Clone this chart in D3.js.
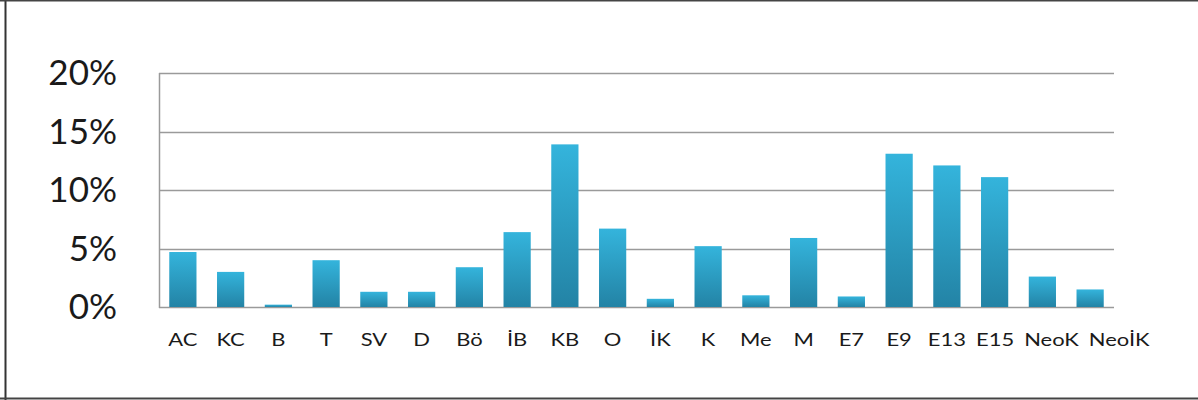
<!DOCTYPE html>
<html>
<head>
<meta charset="utf-8">
<script src="https://cdn.jsdelivr.net/npm/d3@7"></script>
<style>
  html, body { margin: 0; padding: 0; background: #fff; }
  svg { display: block; }
</style>
</head>
<body>
<div id="chart"></div>
<script>
// Category codes along the x axis
const categories = ["AC", "KC", "B", "T", "SV", "D", "Bö", "İB", "KB", "O", "İK", "K", "Me", "M", "E7", "E9", "E13", "E15", "NeoK", "NeoİK"];
// Share of each category, in percent
const values = [4.7, 3.0, 0.2, 4.0, 1.3, 1.3, 3.4, 6.4, 13.9, 6.7, 0.7, 5.2, 1.0, 5.9, 0.9, 13.1, 12.1, 11.1, 2.6, 1.5];
// Y axis tick values (percent)
const yTicks = [0, 5, 10, 15, 20];

const W = 1198, H = 400;
const plot = { left: 159, right: 1114, top: 73, bottom: 307 };

const svg = d3.select("#chart").append("svg")
  .attr("width", W).attr("height", H);

// Frame around the chart
svg.append("line").attr("x1", 5.5).attr("x2", 5.5).attr("y1", 0).attr("y2", H)
  .attr("stroke", "#333").attr("stroke-width", 2);
svg.append("line").attr("x1", 0).attr("x2", W).attr("y1", 0.5).attr("y2", 0.5)
  .attr("stroke", "#444").attr("stroke-width", 2);
svg.append("line").attr("x1", 0).attr("x2", W).attr("y1", 398.5).attr("y2", 398.5)
  .attr("stroke", "#444").attr("stroke-width", 2);

const x = d3.scaleBand().domain(categories)
  .range([plot.left, plot.right]).paddingInner(0.43).paddingOuter(0.215);
const y = d3.scaleLinear().domain([0, 20]).range([plot.bottom, plot.top]);

// Vertical gradient for the bars
const defs = svg.append("defs");
const grad = defs.append("linearGradient").attr("id", "barGrad")
  .attr("x1", 0).attr("y1", 0).attr("x2", 0).attr("y2", 1);
grad.append("stop").attr("offset", "0%").attr("stop-color", "#34b4dc");
grad.append("stop").attr("offset", "100%").attr("stop-color", "#2383a5");

// Horizontal gridlines
svg.append("g").selectAll("line").data(yTicks).join("line")
  .attr("x1", plot.left).attr("x2", plot.right)
  .attr("y1", d => Math.round(y(d)) + 0.5).attr("y2", d => Math.round(y(d)) + 0.5)
  .attr("stroke", "#9a9a9a").attr("stroke-width", 1.5);

// Left axis line
svg.append("line")
  .attr("x1", plot.left + 0.5).attr("x2", plot.left + 0.5)
  .attr("y1", y(20)).attr("y2", y(0) + 1)
  .attr("stroke", "#9a9a9a").attr("stroke-width", 1.5);

// Y tick labels
svg.append("g").selectAll("text").data(yTicks).join("text")
  .attr("x", 117).attr("y", d => y(d) + 12)
  .attr("text-anchor", "end")
  .attr("font-family", "Lato, 'Open Sans', sans-serif")
  .attr("font-size", 35)
  .attr("fill", "#1a1a1a")
  .text(d => d + "%");

// Bars
svg.append("g").selectAll("rect").data(values).join("rect")
  .attr("x", (d, i) => x(categories[i]))
  .attr("width", x.bandwidth())
  .attr("y", d => y(d))
  .attr("height", d => y(0) - y(d))
  .attr("fill", "url(#barGrad)");

// Category labels: wide lettering, nudged right where neighbours would collide
const sx = 1.22, gap = 10;
const labels = svg.append("g").selectAll("text").data(categories).join("text")
  .attr("text-anchor", "middle")
  .attr("font-family", "Lato, 'Open Sans', sans-serif")
  .attr("font-size", 18)
  .attr("fill", "#1a1a1a")
  .text(d => d);

let prevRight = -Infinity;
labels.each(function (d) {
  const w = this.getComputedTextLength() * sx;
  let cx = x(d) + x.bandwidth() / 2;
  if (cx - w / 2 < prevRight + gap) cx = prevRight + gap + w / 2;
  prevRight = cx + w / 2;
  d3.select(this).attr("transform", `translate(${cx},346) scale(${sx},1)`);
});
</script>
</body>
</html>
